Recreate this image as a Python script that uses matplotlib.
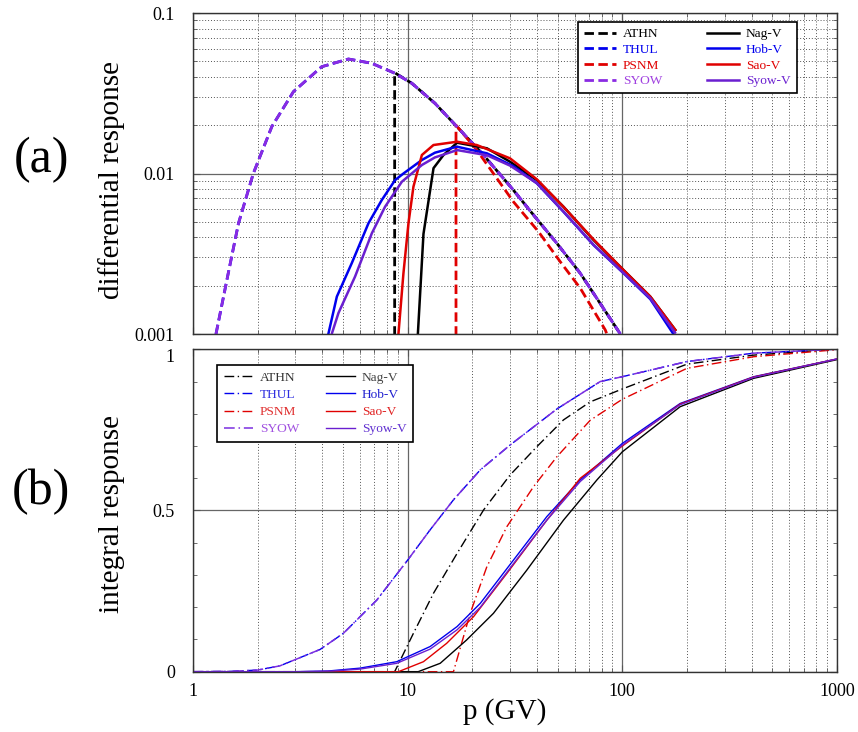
import numpy as np
import matplotlib
matplotlib.use("Agg")
import matplotlib.pyplot as plt
from matplotlib.ticker import LogLocator, NullFormatter, FixedLocator, MultipleLocator

plt.rcParams["font.family"] = ["Liberation Serif", "DejaVu Serif"]

# ---- differential response (panel a) ----
syow_p = [1.28, 1.46, 1.63, 1.91, 2.33, 2.94, 3.98, 5.30, 6.81, 8.74, 10.46, 13.4,
          16.96, 22.6, 30.6, 38.6, 49.6, 63.7, 78.9, 97.9]
syow_d = [0.00100, 0.00239, 0.0049, 0.0100, 0.0196, 0.0324, 0.0463, 0.0517, 0.0486,
          0.0421, 0.0365, 0.0274, 0.0196, 0.0130, 0.00809, 0.00551, 0.00367, 0.00239,
          0.00155, 0.00100]
thul_p = syow_p
thul_d = syow_d
athn_p = [8.7, 8.7, 10.46, 13.4, 16.96, 22.6, 30.6, 38.6, 49.6, 63.7, 78.9, 97.9]
athn_d = [0.0008, 0.0425, 0.0365, 0.0274, 0.0196, 0.0130, 0.00809, 0.00551, 0.00367,
          0.00239, 0.00155, 0.00100]
psnm_p = [16.8, 16.8, 21.0, 31.1, 40.7, 51.4, 63.7, 83.3, 86.0]
psnm_d = [0.0008, 0.0200, 0.0140, 0.00667, 0.00434, 0.00282, 0.00193, 0.00106, 0.00095]

hobv_p = [4.1, 4.25, 4.68, 5.49, 6.57, 7.58, 8.74, 9.56, 11.65, 13.4, 16.96, 23.4,
          31.1, 40.0, 53.2, 73.5, 101.4, 135, 173]
hobv_d = [0.0008, 0.00097, 0.00171, 0.00276, 0.0049, 0.00684, 0.0091, 0.0100, 0.01214,
          0.01348, 0.0147, 0.01336, 0.0111, 0.00869, 0.00578, 0.00358, 0.00239,
          0.00165, 0.00100]
syowv_p = [4.3, 4.43, 4.76, 5.69, 6.81, 7.85, 9.40, 11.65, 13.4, 17.0, 23.4, 30.0,
           40.0, 53.2, 73.5, 101.4, 135, 176]
syowv_d = [0.0008, 0.0010, 0.00135, 0.00228, 0.00424, 0.00621, 0.00889, 0.0113, 0.0126,
           0.0140, 0.0130, 0.0112, 0.0087, 0.0058, 0.0036, 0.0024, 0.00167, 0.00102]
saov_p = [9.0, 9.06, 9.56, 10.09, 10.64, 11.65, 13.19, 17.0, 21.0, 30.0, 40.0, 53.2,
          73.5, 101.4, 135, 176.6]
saov_d = [0.0008, 0.0010, 0.00239, 0.0049, 0.00827, 0.01304, 0.01505, 0.01578, 0.01505,
          0.01243, 0.0092, 0.0062, 0.00388, 0.0025, 0.00171, 0.00106]
nagv_p = [11.1, 11.16, 11.85, 13.2, 14.69, 17.0, 23.4, 30.0, 40.0, 53.2, 73.5, 101.4,
          135, 176.6]
nagv_d = [0.0008, 0.0010, 0.0042, 0.0108, 0.01304, 0.01556, 0.01436, 0.01184, 0.0091,
          0.00621, 0.00385, 0.0025, 0.00171, 0.00106]

# ---- integral response (panel b) ----
syow_ip = [1.0, 1.5, 2.0, 2.54, 3.91, 5.02, 7.18, 10.0, 12.73, 16.35, 21.8, 30.0, 49.6,
           78.9, 100, 200, 409, 966, 1000]
syow_i = [0, 0.001, 0.005, 0.018, 0.069, 0.119, 0.222, 0.346, 0.44, 0.533, 0.626, 0.703,
          0.815, 0.90, 0.915, 0.962, 0.988, 1.0, 1.0]
thul_ip = syow_ip
thul_i = syow_i
athn_ip = [1.0, 8.7, 10.64, 13.19, 17.0, 22.6, 30.0, 40.0, 53.2, 70.9, 100, 200, 409,
           966, 1000]
athn_i = [0, 0, 0.119, 0.243, 0.367, 0.502, 0.61, 0.698, 0.781, 0.837, 0.877, 0.954,
          0.982, 1.0, 1.0]
psnm_ip = [1.0, 16.35, 19.56, 23.4, 29.0, 38.6, 49.6, 70.9, 100, 200, 409, 966, 1000]
psnm_i = [0, 0, 0.181, 0.326, 0.45, 0.574, 0.667, 0.78, 0.845, 0.941, 0.977, 0.998, 1.0]

hobv_ip = [1.0, 3.0, 4.25, 6.0, 8.9, 12.73, 17.0, 21.8, 31.1, 44.5, 63.7, 100, 186, 409,
           1000]
hobv_i = [0, 0, 0.002, 0.011, 0.031, 0.078, 0.14, 0.212, 0.346, 0.481, 0.595, 0.708,
          0.832, 0.915, 0.97]
syowv_ip = [1.0, 3.2, 4.43, 6.0, 8.9, 12.73, 17.0, 21.8, 31.1, 44.5, 63.7, 100, 186, 409,
            1000]
syowv_i = [0, 0, 0.002, 0.008, 0.026, 0.07, 0.13, 0.2, 0.335, 0.47, 0.59, 0.703, 0.828,
           0.913, 0.97]
saov_ip = [1.0, 9.06, 11.85, 15.2, 20.3, 29.0, 44.5, 63.7, 100, 186, 409, 1000]
saov_i = [0, 0, 0.031, 0.088, 0.171, 0.305, 0.47, 0.6, 0.70, 0.83, 0.914, 0.97]
nagv_ip = [1.0, 11.2, 14.18, 18.8, 25.1, 35.9, 53.2, 76.2, 100, 186, 409, 1000]
nagv_i = [0, 0, 0.026, 0.098, 0.181, 0.315, 0.47, 0.595, 0.682, 0.822, 0.91, 0.968]

x_ticks = [1, 10, 100, 1000]
x_tick_labels = ["1", "10", "100", "1000"]

BLACK = "#000000"
BLUE = "#0000ee"
RED = "#e00000"
VIOLET = "#8a2be2"
PURPLE = "#6a1fd0"


def style_axes(ax):
    ax.set_xscale("log")
    ax.set_xlim(1, 1000)
    ax.xaxis.set_major_locator(FixedLocator(x_ticks))
    ax.set_xticklabels(x_tick_labels)
    ax.xaxis.set_minor_locator(LogLocator(base=10, subs=np.arange(2, 10), numticks=20))
    ax.xaxis.set_minor_formatter(NullFormatter())
    ax.grid(True, which="major", axis="x", color="#666666", lw=0.9, ls="-")
    ax.grid(True, which="minor", axis="x", color="#555555", lw=0.7, ls=(0, (1, 2)))
    ax.tick_params(which="both", direction="in", top=True, right=True,
                   labelsize=13, color="#555555")
    ax.tick_params(which="major", length=5)
    ax.tick_params(which="minor", length=3)
    ax.tick_params(axis="y", pad=13)
    ax.tick_params(axis="x", pad=8)
    for s in ax.spines.values():
        s.set_color("#333333")
        s.set_linewidth(1.0)
    ax.set_axisbelow(True)


fig = plt.figure(figsize=(8.58, 7.32), dpi=100)
ax1 = fig.add_axes([0.2249, 0.5437, 0.7506, 0.4385])
ax2 = fig.add_axes([0.2249, 0.0824, 0.7506, 0.4404])

# panel (a)
style_axes(ax1)
ax1.set_yscale("log")
ax1.set_ylim(0.001, 0.1)
ax1.yaxis.set_major_locator(FixedLocator([0.001, 0.01, 0.1]))
ax1.set_yticklabels(["0.001", "0.01", "0.1"])
ax1.yaxis.set_minor_locator(LogLocator(base=10, subs=np.arange(2, 10), numticks=20))
ax1.yaxis.set_minor_formatter(NullFormatter())
ax1.grid(True, which="major", axis="y", color="#666666", lw=0.9, ls="-")
ax1.grid(True, which="minor", axis="y", color="#555555", lw=0.7, ls=(0, (1, 2)))
ax1.tick_params(axis="x", labelbottom=False)

dash_a = (3.4, 1.6)
ax1.plot(athn_p, athn_d, color=BLACK, lw=2, dashes=dash_a, label="ATHN")
ax1.plot(thul_p, thul_d, color=BLUE, lw=2, dashes=dash_a, label="THUL")
ax1.plot(psnm_p, psnm_d, color=RED, lw=2, dashes=dash_a, label="PSNM")
ax1.plot(syow_p, syow_d, color=VIOLET, lw=2, dashes=dash_a, label="SYOW")
ax1.plot(nagv_p, nagv_d, color=BLACK, lw=1.8, label="Nag-V")
ax1.plot(hobv_p, hobv_d, color=BLUE, lw=1.8, label="Hob-V")
ax1.plot(saov_p, saov_d, color=RED, lw=1.8, label="Sao-V")
ax1.plot(syowv_p, syowv_d, color=PURPLE, lw=1.8, label="Syow-V")

text_cols = [BLACK, BLUE, RED, "#a040e0", BLACK, BLUE, RED, PURPLE]
leg1 = ax1.legend(loc="upper left", bbox_to_anchor=(578 / 858, 1 - 22 / 732),
                  bbox_transform=fig.transFigure, ncol=2, fontsize=9.6,
                  handlelength=2.4, labelspacing=0.25, columnspacing=3.4,
                  handletextpad=0.5, borderpad=0.45, fancybox=False, framealpha=1,
                  edgecolor=BLACK, borderaxespad=0)
leg1.get_frame().set_linewidth(1.2)
for t, c in zip(leg1.get_texts(), text_cols):
    t.set_color(c)

# panel (b)
style_axes(ax2)
ax2.set_ylim(0, 1)
ax2.yaxis.set_major_locator(FixedLocator([0, 0.5, 1]))
ax2.set_yticklabels(["0", "0.5", "1"])
ax2.get_yticklabels()[2].set_va("top")
ax2.yaxis.set_minor_locator(MultipleLocator(0.1))
ax2.grid(True, which="major", axis="y", color="#666666", lw=0.9, ls="-")

dash_b = (7, 2.5, 1, 2.5)
ax2.plot(athn_ip, athn_i, color=BLACK, lw=1.0, dashes=dash_b, label="ATHN")
ax2.plot(thul_ip, thul_i, color=BLUE, lw=1.0, dashes=dash_b, label="THUL")
ax2.plot(psnm_ip, psnm_i, color=RED, lw=1.0, dashes=dash_b, label="PSNM")
ax2.plot(syow_ip, syow_i, color="#7b2fe0", lw=1.1, dashes=dash_b, label="SYOW")
ax2.plot(nagv_ip, nagv_i, color=BLACK, lw=1.0, label="Nag-V")
ax2.plot(hobv_ip, hobv_i, color=BLUE, lw=1.0, label="Hob-V")
ax2.plot(saov_ip, saov_i, color=RED, lw=1.0, label="Sao-V")
ax2.plot(syowv_ip, syowv_i, color=PURPLE, lw=1.0, label="Syow-V")

text_cols_b = ["#333333", "#3030e0", "#e03030", "#a050e0",
               "#444444", "#2020d0", "#e02020", "#6030d0"]
leg2 = ax2.legend(loc="upper left", bbox_to_anchor=(217 / 858, 1 - 365 / 732),
                  bbox_transform=fig.transFigure, ncol=2, fontsize=9.6,
                  handlelength=2.2, labelspacing=0.36, columnspacing=2.0,
                  handletextpad=0.5, borderpad=0.5, fancybox=False, framealpha=1,
                  edgecolor=BLACK, borderaxespad=0)
leg2.get_frame().set_linewidth(1.2)
for t, c in zip(leg2.get_texts(), text_cols_b):
    t.set_color(c)

# labels
fig.text(112 / 858, 1 - 180 / 732, "differential response", rotation=90,
         ha="center", va="center", fontsize=21)
fig.text(112 / 858, 1 - 514 / 732, "integral response", rotation=90,
         ha="center", va="center", fontsize=21)
fig.text(41 / 858, 1 - 160 / 732, "(a)", ha="center", va="center", fontsize=36)
fig.text(41 / 858, 1 - 492 / 732, "(b)", ha="center", va="center", fontsize=36)
fig.text(505 / 858, 1 - 712 / 732, "p (GV)", ha="center", va="center", fontsize=21)

fig.savefig("out.png", dpi=100)
